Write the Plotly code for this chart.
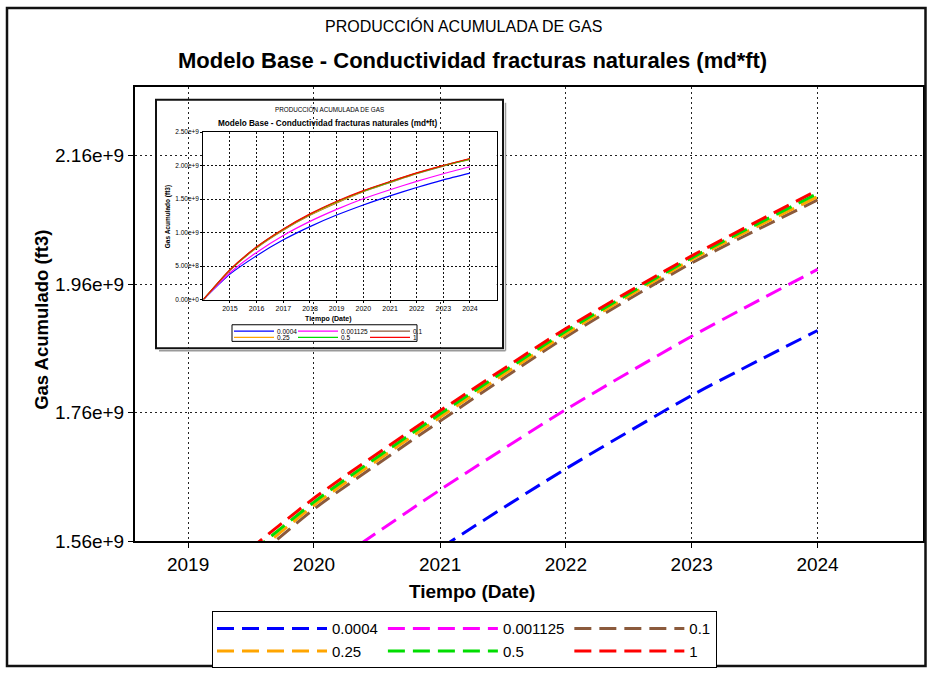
import plotly.graph_objects as go

W, H = 927, 679

# ---------------- data ----------------
dates = ["2014-01-01", "2015-01-01", "2016-01-01", "2017-01-01", "2018-01-01",
         "2019-01-01", "2020-01-01", "2021-01-01", "2022-01-01", "2023-01-01",
         "2024-01-01"]
series_names = ["0.0004", "0.001125", "0.1", "0.25", "0.5", "1"]
gas_0_0004 = [0, 0.380e9, 0.655e9, 0.893e9, 1.090e9, 1.262e9, 1.413e9, 1.549e9, 1.673e9, 1.787e9, 1.888e9]
gas_0_001125 = [0, 0.400e9, 0.705e9, 0.958e9, 1.168e9, 1.347e9, 1.505e9, 1.640e9, 1.765e9, 1.879e9, 1.983e9]
gas_0_1 = [0, 0.436e9, 0.772e9, 1.036e9, 1.258e9, 1.442e9, 1.610e9, 1.747e9, 1.878e9, 1.993e9, 2.091e9]
gas_0_25 = [0, 0.440e9, 0.778e9, 1.043e9, 1.266e9, 1.452e9, 1.616e9, 1.753e9, 1.883e9, 1.998e9, 2.096e9]
gas_0_5 = [0, 0.443e9, 0.783e9, 1.049e9, 1.273e9, 1.460e9, 1.621e9, 1.758e9, 1.887e9, 2.001e9, 2.101e9]
gas_1 = [0, 0.447e9, 0.788e9, 1.055e9, 1.280e9, 1.468e9, 1.627e9, 1.763e9, 1.891e9, 2.004e9, 2.106e9]
series_values = [gas_0_0004, gas_0_001125, gas_0_1, gas_0_25, gas_0_5, gas_1]

main_ytickvals = [1.56e9, 1.76e9, 1.96e9, 2.16e9]
main_yticktext = ["1.56e+9", "1.76e+9", "1.96e+9", "2.16e+9"]
inset_xtickvals = ["2015-01-01", "2016-01-01", "2017-01-01", "2018-01-01", "2019-01-01",
                   "2020-01-01", "2021-01-01", "2022-01-01", "2023-01-01", "2024-01-01"]
inset_xticktext = ["2015", "2016", "2017", "2018", "2019", "2020", "2021", "2022", "2023", "2024"]
inset_ytickvals = [0, 0.5e9, 1.0e9, 1.5e9, 2.0e9, 2.5e9]
inset_yticktext = ["0.00e+0", "5.00e+8", "1.00e+9", "1.50e+9", "2.00e+9", "2.50e+9"]

title_top = "PRODUCCIÓN ACUMULADA DE GAS"
title_main = "Modelo Base - Conductividad fracturas naturales (md*ft)"
x_title = "Tiempo (Date)"
y_title = "Gas Acumulado (ft3)"

# ---------------- styles ----------------
colors = ["#0000FF", "#FF00FF", "#8B5A3C", "#FFA500", "#00DD00", "#FF0000"]
groups = ["c1", "c2", "c3", "c1", "c2", "c3"]
FONT = "Liberation Sans, Arial, sans-serif"


def px(x):
    return x / W


def py(y):
    return 1 - y / H


fig = go.Figure()

# main chart traces
for name, vals, col, grp in zip(series_names, series_values, colors, groups):
    fig.add_trace(go.Scatter(
        x=dates, y=vals, name=name, mode="lines", legendgroup=grp,
        line=dict(color=col, width=3, dash="17px,8px", shape="spline", smoothing=0.6),
        xaxis="x", yaxis="y", hoverinfo="skip"))

# inset chart traces (same data, full time range)
for name, vals, col in zip(series_names, series_values, colors):
    fig.add_trace(go.Scatter(
        x=dates, y=vals, name=name, mode="lines", showlegend=False,
        line=dict(color=col, width=1.2, shape="spline", smoothing=0.6),
        xaxis="x3", yaxis="y3", hoverinfo="skip"))

axis_common = dict(showline=True, linecolor="black", mirror=True, zeroline=False,
                   color="black")

fig.update_layout(
    width=W, height=H,
    margin=dict(l=0, r=0, t=0, b=0),
    paper_bgcolor="white", plot_bgcolor="white",
    font=dict(family=FONT, color="black"),
    showlegend=True,
    xaxis=dict(axis_common, domain=[px(135), px(923)], anchor="y",
               type="date", range=["2018-07-31", "2024-11-02"],
               tick0="2019-01-01", dtick="M12", tickformat="%Y",
               linewidth=2, ticks="outside", ticklen=5, tickcolor="black",
               showgrid=True, gridcolor="#222", griddash="2px,3px", gridwidth=1,
               tickfont=dict(size=19, family=FONT)),
    yaxis=dict(axis_common, domain=[py(549.5), py(85)], anchor="x",
               range=[1.56e9, 2.2665e9],
               tickvals=main_ytickvals, ticktext=main_yticktext,
               linewidth=2, ticks="outside", ticklen=5, tickcolor="black",
               showgrid=True, gridcolor="#222", griddash="2px,3px", gridwidth=1,
               tickfont=dict(size=19, family=FONT)),
    # frame of the inset (white box that hides the main grid)
    xaxis2=dict(axis_common, domain=[px(156), px(503)], anchor="y2", range=[0, 1],
                linewidth=2, showticklabels=False, ticks="", showgrid=False,
                fixedrange=True),
    yaxis2=dict(axis_common, domain=[py(352), py(98)], anchor="x2", range=[0, 1],
                linewidth=2, showticklabels=False, ticks="", showgrid=False,
                fixedrange=True),
    # inset plot
    xaxis3=dict(axis_common, domain=[px(203.3), px(496.7)], anchor="y3",
                type="date", range=["2014-01-01", "2025-01-01"],
                tickvals=inset_xtickvals, ticktext=inset_xticktext,
                linewidth=1, ticks="outside", ticklen=2, tickcolor="black",
                showgrid=True, gridcolor="#111", griddash="2px,2px", gridwidth=1,
                tickfont=dict(size=7, family=FONT)),
    yaxis3=dict(axis_common, domain=[py(302.3), py(131)], anchor="x3",
                range=[0, 2.5e9],
                tickvals=inset_ytickvals, ticktext=inset_yticktext,
                linewidth=1, ticks="outside", ticklen=2, tickcolor="black",
                showgrid=True, gridcolor="#111", griddash="2px,2px", gridwidth=1,
                tickfont=dict(size=6.5, family=FONT)),
    legend=dict(x=px(212), y=py(621), xanchor="left", yanchor="top",
                orientation="h", traceorder="grouped", itemwidth=110,
                font=dict(size=15, family=FONT, color="black"),
                bordercolor="black", borderwidth=1, bgcolor="white",
                tracegroupgap=0, itemclick=False, itemdoubleclick=False),
)

annotations = [
    dict(text=title_top, x=px(463), y=py(22), font=dict(size=16, family=FONT)),
    dict(text="<b>" + title_main + "</b>", x=px(472.5), y=py(58), font=dict(size=22, family=FONT)),
    dict(text="<b>" + x_title + "</b>", x=px(472), y=py(601), font=dict(size=19, family=FONT)),
    dict(text="<b>" + y_title + "</b>", x=px(42), y=py(323), textangle=-90, font=dict(size=18.5, family=FONT)),
    # inset texts
    dict(text=title_top, x=px(329), y=py(107), font=dict(size=6.3, family=FONT)),
    dict(text="<b>" + title_main + "</b>", x=px(328), y=py(122), font=dict(size=8.2, family=FONT)),
    dict(text="<b>" + x_title + "</b>", x=px(328), y=py(322), font=dict(size=7, family=FONT)),
    dict(text="<b>" + y_title + "</b>", x=px(168), y=py(218), textangle=-90, font=dict(size=6.5, family=FONT)),
]
for a in annotations:
    a.update(xref="paper", yref="paper", showarrow=False, xanchor="center", yanchor="middle")

shapes = [
    # outer frame
    dict(type="rect", xref="paper", yref="paper", x0=px(7), x1=px(925.5), y0=py(677), y1=py(4),
         line=dict(color="#111", width=2.5), layer="above"),
    # inset frame border
    dict(type="rect", xref="paper", yref="paper", x0=px(156), x1=px(503), y0=py(352), y1=py(98),
         line=dict(color="#111", width=2), layer="above"),
    # soft shadow on inset frame (right and bottom)
    dict(type="line", xref="paper", yref="paper", x0=px(505.5), x1=px(505.5), y0=py(354.5), y1=py(101),
         line=dict(color="#9a9a9a", width=1.5), layer="above"),
    dict(type="line", xref="paper", yref="paper", x0=px(159), x1=px(505.5), y0=py(354.5), y1=py(354.5),
         line=dict(color="#9a9a9a", width=1.5), layer="above"),
    # inset legend box
    dict(type="rect", xref="paper", yref="paper", x0=px(232), x1=px(417), y0=py(345), y1=py(328),
         line=dict(color="black", width=1), fillcolor="white", layer="above"),
]

# inset legend entries
col_x = [234, 298, 370]
row_y = [334.5, 341]
for i, (name, col) in enumerate(zip(series_names, colors)):
    cx = col_x[i % 3]
    ry = row_y[i // 3]
    shapes.append(dict(type="line", xref="paper", yref="paper", x0=px(cx), x1=px(cx + 40),
                       y0=py(ry), y1=py(ry), line=dict(color=col, width=1.2), layer="above"))
    annotations.append(dict(text=name, xref="paper", yref="paper", x=px(cx + 41), y=py(ry),
                            xanchor="left", yanchor="middle", showarrow=False,
                            font=dict(size=6.5, family=FONT)))

fig.update_layout(annotations=annotations, shapes=shapes)

post = ("document.body.style.margin='0px';"
        "document.documentElement.style.overflow='hidden';"
        "document.body.style.overflow='hidden';")

fig.write_html("out.html", config={"displayModeBar": False}, post_script=post)
